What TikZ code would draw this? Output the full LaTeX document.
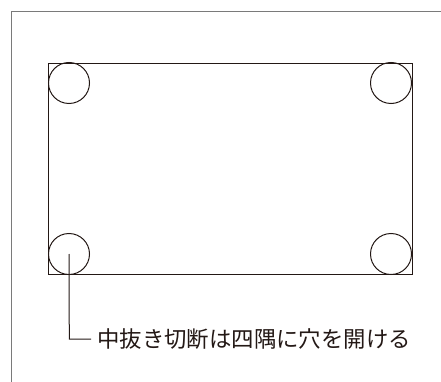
\documentclass[tikz,border=0pt]{standalone}
\usepackage{fontspec}
\newfontfamily\cjk{Noto Sans CJK JP}
\definecolor{ink}{HTML}{231815}
\definecolor{frame}{HTML}{7A7A7A}
\begin{document}
\begin{tikzpicture}[x=1pt,y=-1pt,
  hole/.style={draw=ink,line width=1pt},
  plate/.style={draw=ink,line width=1pt},
  leader/.style={draw=ink,line width=1pt},
  label/.style={font=\cjk\fontsize{22.4}{26}\selectfont,text=ink,inner sep=0pt,anchor=west}]
\useasboundingbox (0,0) rectangle (441,382);
\draw[frame,line width=1.4pt] (11.5,382) -- (11.5,11.5) -- (441,11.5);
\node[plate,minimum width=364pt,minimum height=210.5pt,inner sep=0pt,anchor=north west] (plate) at (48,63) {};
\node[hole,circle,minimum size=41pt,inner sep=0pt] (tl) at (69,83) {};
\node[hole,circle,minimum size=41pt,inner sep=0pt] (tr) at (391,83) {};
\node[hole,circle,minimum size=41pt,inner sep=0pt] (bl) at (69,254) {};
\node[hole,circle,minimum size=41pt,inner sep=0pt] (br) at (391,254) {};
\node[label] (txt) at (97,339.5) {中抜き切断は四隅に穴を開ける};
\coordinate (bend) at (69.3,339);
\draw[leader] (bl.center) -- (bend) -- ([xshift=-6pt]txt.west |- bend);
\end{tikzpicture}
\end{document}
